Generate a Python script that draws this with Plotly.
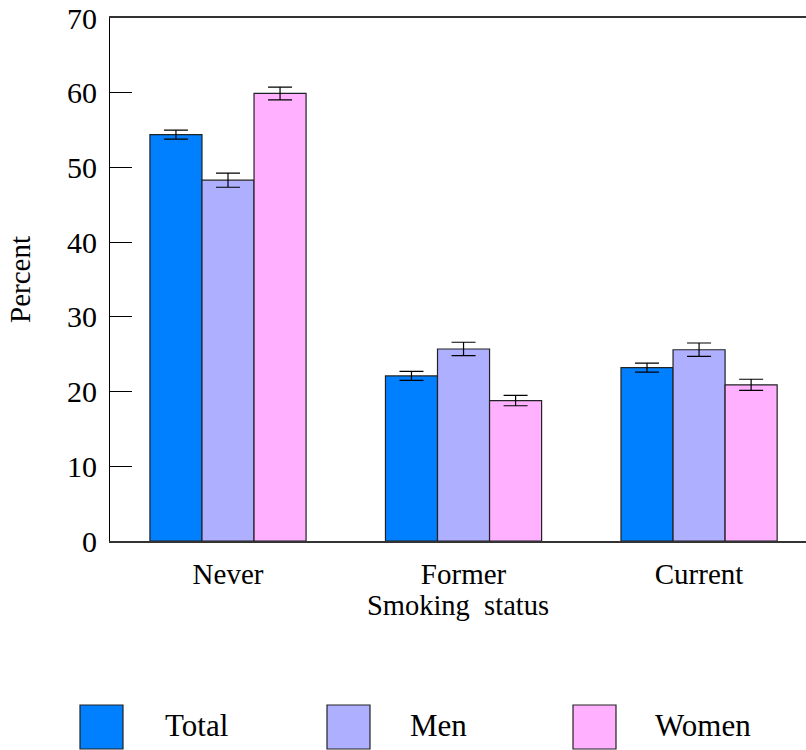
import plotly.graph_objects as go

categories = ["Never", "Former", "Current"]
series_names = ["Total", "Men", "Women"]
total_vals = [54.4, 22.1, 23.2]
men_vals = [48.3, 25.7, 25.6]
women_vals = [59.9, 18.8, 20.9]
total_err = [0.6, 0.6, 0.6]
men_err = [0.95, 0.9, 0.9]
women_err = [0.85, 0.7, 0.75]
colors = ["#0080FF", "#AFAFFF", "#FFB0FF"]
y_ticks = [0, 10, 20, 30, 40, 50, 60, 70]

FONT = "Liberation Serif, Times New Roman, serif"
FS = 29

W, H = 806, 750
L, T, B = 110, 18, 750 - 541
PW, PH = 806 - 110, 541 - 18

fig = go.Figure()
xs = list(range(len(categories)))
for name, vals, errs, col in zip(series_names, [total_vals, men_vals, women_vals],
                                 [total_err, men_err, women_err], colors):
    fig.add_trace(go.Bar(
        x=xs, y=vals, name=name,
        marker=dict(color=col, line=dict(color="#222222", width=1.2)),
        error_y=dict(type="data", array=errs, visible=True, color="#000000",
                     thickness=1.2, width=12),
        showlegend=False,
    ))

fig.update_layout(
    width=W, height=H,
    margin=dict(l=L, r=0, t=T, b=B, pad=0, autoexpand=False),
    paper_bgcolor="white", plot_bgcolor="white",
    barmode="group", bargap=0.337, bargroupgap=0,
    font=dict(family=FONT, size=FS, color="black"),
    xaxis=dict(
        tickmode="array", tickvals=xs, ticktext=categories,
        range=[-0.501, 2.454], showline=True, linecolor="#333333", linewidth=1.5,
        mirror=True, ticks="", showgrid=False, zeroline=False, automargin=False,
        ticklabelstandoff=6,
        title=dict(text="Smoking\u00a0 status", standoff=7, font=dict(size=28.5)),
        tickfont=dict(size=FS),
    ),
    yaxis=dict(
        range=[0, 70], tickvals=y_ticks, showline=True, linecolor="black",
        linewidth=1.2, ticks="inside", ticklen=22, tickwidth=1.2, tickcolor="black",
        showgrid=False, zeroline=False, ticklabelstandoff=6, automargin=False,
        ticklabeloverflow="allow",
        title=dict(text="Percent", standoff=27, font=dict(size=29)),
        tickfont=dict(size=30),
    ),
)

# custom legend (large swatches)
legend_x = [80, 327, 573]
text_x = [196, 438, 703]
for name, col, bx, tx in zip(series_names, colors, legend_x, text_x):
    fig.add_shape(type="rect", xref="paper", yref="paper",
                  x0=(bx - 110) / PW, x1=(bx + 43 - 110) / PW,
                  y0=(541 - 749) / PH, y1=(541 - 705) / PH,
                  fillcolor=col, line=dict(color="#222222", width=1.2))
    fig.add_annotation(xref="paper", yref="paper",
                       x=(tx - 110) / PW, y=(541 - 725) / PH,
                       text=name, showarrow=False, xanchor="center", yanchor="middle",
                       font=dict(family=FONT, size=31, color="black"))

fig.write_html("out.html", config={"displayModeBar": False},
               post_script="document.body.style.margin='0';document.body.style.overflow='hidden';")
